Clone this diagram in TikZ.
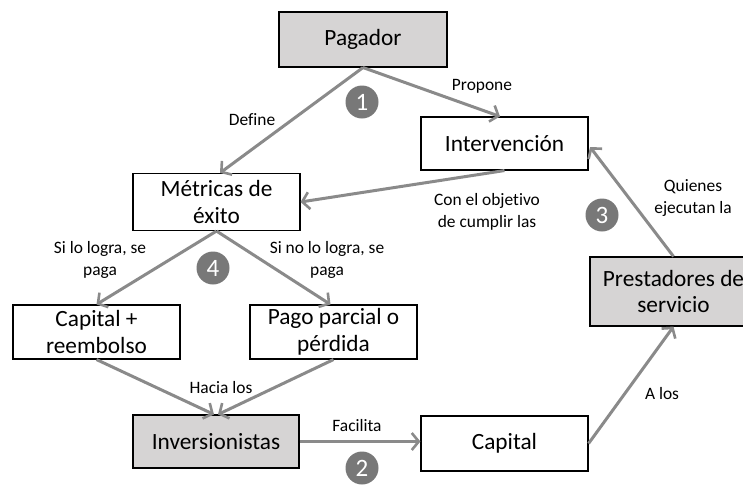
\documentclass[tikz,border=0pt]{standalone}
\usepackage{fontspec}
\setmainfont{Carlito}[Ligatures=NoCommon]
\usetikzlibrary{arrows.meta,calc}
\definecolor{boxgray}{RGB}{214,212,212}
\definecolor{linegray}{RGB}{138,138,138}
\definecolor{numgray}{RGB}{120,120,120}
\tikzset{
  box/.style={draw=black, line width=1.1pt, minimum width=167pt, minimum height=54pt,
    align=center, inner sep=0pt, font=\fontsize{23.3}{26.5}\selectfont},
  gbox/.style={box, fill=boxgray},
  lbl/.style={align=center, inner sep=0pt, font=\fontsize{17.4}{22}\selectfont},
  numc/.style={circle, fill=numgray, minimum size=33pt, inner sep=0pt,
    text=white, font=\fontsize{25}{25}\selectfont},
  conn/.style={draw=linegray, line width=3pt, -{Straight Barb[length=7pt,width=17pt,line width=2.6pt]}}
}
\begin{document}
\begin{tikzpicture}[x=1pt,y=-1pt]
\useasboundingbox (0,0) rectangle (743,485);
\clip (0,0) rectangle (743,485);
% boxes
\node[gbox, minimum width=168pt, minimum height=55pt] (pag) at (363,39.5) {Pagador};
\node[box, minimum height=53pt] (int) at (504.5,143.5) {Intervención};
\node[box, minimum height=57pt] (met) at (216.5,202) {Métricas de\\éxito};
\node[gbox, minimum height=69pt] (pres) at (673.5,291.5) {Prestadores de\\servicio};
\node[box] (cr) at (96.5,332) {Capital +\\reembolso};
\node[box] (pp) at (333.5,332) {Pago parcial o\\pérdida};
\node[gbox, minimum width=166pt, minimum height=53pt] (inv) at (216,441.5) {Inversionistas};
\node[box, minimum height=55pt] (cap) at (504.5,443.5) {Capital};
% connectors
\draw[conn] (pag.south) -- ($(met.north)+(3.5,0)$);
\draw[conn] (pag.south) -- ($(int.north)+(-4.5,0)$);
\draw[conn] (int.south) -- (met.east);
\draw[conn] (pres.north) -- ($(int.east)+(1.5,3.5)$);
\draw[conn] (cap.east) -- (pres.south);
\draw[conn] (inv.east) -- (cap.west |- inv.east);
\draw[conn] (met.south) -- (cr.north);
\draw[conn] (met.south) -- ($(pp.north)+(-3,0)$);
\draw[conn] (cr.south) -- ($(inv.north)+(-2,0)$);
\draw[conn] (pp.south) -- ($(inv.north)+(2,0)$);
% labels
\node[lbl] (ldef) at (252,120) {Define};
\node[lbl] (lprop) at (482,86) {Propone};
\node[lbl] (lcon) at (487,212) {Con el objetivo\\de cumplir las};
\node[lbl] (lqui) at (693,198) {Quienes\\ejecutan la};
\node[lbl] (lsi) at (100,260) {Si lo logra, se\\paga};
\node[lbl] (lsino) at (327,260) {Si no lo logra, se\\paga};
\node[lbl] (lhac) at (221,388) {Hacia los};
\node[lbl] (lfac) at (357,426) {Facilita};
\node[lbl] (lalos) at (662,394) {A los};
% numbers
\node[numc] (n1) at (362,102) {1};
\node[numc] (n2) at (362,468) {2};
\node[numc] (n3) at (602,215) {3};
\node[numc] (n4) at (213,268) {4};
\end{tikzpicture}
\end{document}
